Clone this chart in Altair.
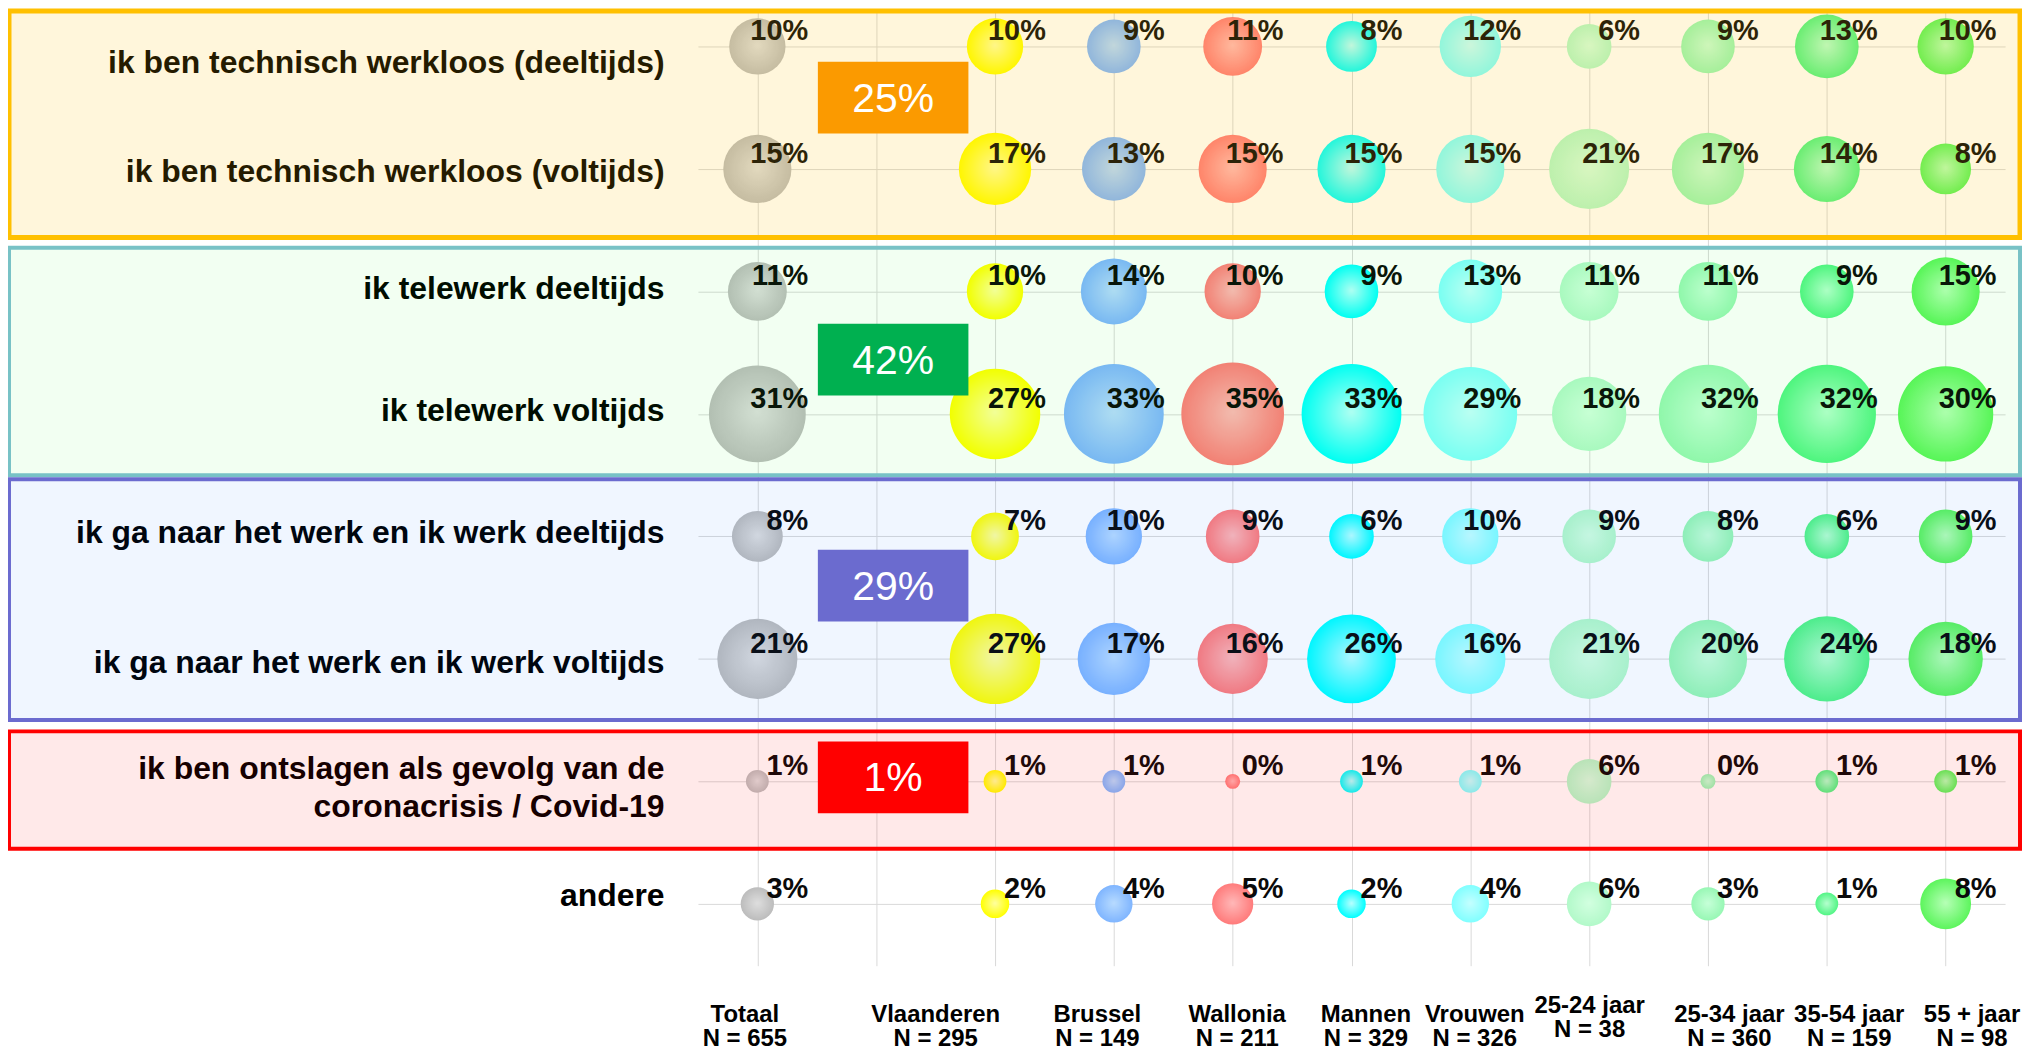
import json
import altair as alt
import pandas as pd

# ---------------- data ----------------
COLUMNS = ["Totaal", " ", "Vlaanderen", "Brussel", "Wallonia", "Mannen", "Vrouwen",
           "25-24 jaar", "25-34 jaar", "35-54 jaar", "55 + jaar"]
N_LABELS = ["N = 655", "", "N = 295", "N = 149", "N = 211", "N = 329", "N = 326",
            "N = 38", "N = 360", "N = 159", "N = 98"]

ROW_LABELS = [
    "ik ben technisch werkloos (deeltijds)",
    "ik ben technisch werkloos (voltijds)",
    "ik telewerk deeltijds",
    "ik telewerk voltijds",
    "ik ga naar het werk en ik werk deeltijds",
    "ik ga naar het werk en ik werk voltijds",
    "ik ben ontslagen als gevolg van de|coronacrisis / Covid-19",
    "andere",
]

TOTAAL = [10, 15, 11, 31, 8, 21, 1, 3]
VLAANDEREN = [10, 17, 10, 27, 7, 27, 1, 2]
BRUSSEL = [9, 13, 14, 33, 10, 17, 1, 4]
WALLONIA = [11, 15, 10, 35, 9, 16, 0, 5]
MANNEN = [8, 15, 9, 33, 6, 26, 1, 2]
VROUWEN = [12, 15, 13, 29, 10, 16, 1, 4]
AGE_25_24 = [6, 21, 11, 18, 9, 21, 6, 6]
AGE_25_34 = [9, 17, 11, 32, 8, 20, 0, 3]
AGE_35_54 = [13, 14, 9, 32, 6, 24, 1, 1]
AGE_55_PLUS = [10, 8, 15, 30, 9, 18, 1, 8]

SERIES = {
    "Totaal": TOTAAL, "Vlaanderen": VLAANDEREN, "Brussel": BRUSSEL,
    "Wallonia": WALLONIA, "Mannen": MANNEN, "Vrouwen": VROUWEN,
    "25-24 jaar": AGE_25_24, "25-34 jaar": AGE_25_34,
    "35-54 jaar": AGE_35_54, "55 + jaar": AGE_55_PLUS,
}

GROUP_ROWS = [[0, 1], [2, 3], [4, 5], [6]]
GROUP_TOTALS = ["25%", "42%", "29%", "1%"]

# ---------------- styles ----------------
BUBBLE_COLORS = {  # (centre highlight, edge)
    "Totaal": ("#dedede", "#bcbcbc"),
    "Vlaanderen": ("#ffffa0", "#ffff00"),
    "Brussel": ("#b8dbff", "#7fb5ff"),
    "Wallonia": ("#ffb8b8", "#ff7b7b"),
    "Mannen": ("#b8ffff", "#00ffff"),
    "Vrouwen": ("#c4ffff", "#80ffff"),
    "25-24 jaar": ("#d2ffe0", "#b2f9c9"),
    "25-34 jaar": ("#c6ffd8", "#97f7b4"),
    "35-54 jaar": ("#b6ffcf", "#52f585"),
    "55 + jaar": ("#b6ffb6", "#5cf55c"),
}

GROUP_STYLE = [
    dict(stroke="#ffc000", sw=5, fill="#ffc000", fo=0.14, box="#fb9a00", top=-0.289, bottom=0.56, yoff=-10),
    dict(stroke="#78c2c6", sw=4, fill="#00ff00", fo=0.05, box="#00b050", top=-0.356, bottom=0.50, yoff=7),
    dict(stroke="#6b6bcf", sw=4, fill="#0066ff", fo=0.06, box="#6b6bcf", top=-0.467, bottom=0.50, yoff=-12),
    dict(stroke="#ff0000", sw=4, fill="#ff0000", fo=0.085, box="#ff0000", top=-0.408, bottom=0.55, yoff=-4),
]

# label nudges (pixels) copying the hand-placed text boxes of the original
ROW_LABEL_SHIFT = [16, 3, -3, -3, -4, 4, -13, -8]
COL_LABEL_SHIFT = [-13, 0, -60, -17, 4, 14, 4, 0, 21, 22, 26]

FONT = "Liberation Sans"
GRID = "#d9d9d9"

# ---------------- tables ----------------
rows = []
for col, vals in SERIES.items():
    for i, v in enumerate(vals):
        rows.append({"col": col, "row": i, "value": v, "label": f"{v}%"})
df = pd.DataFrame(rows)

x_labels = [c.strip() + ("|" + n if n else "") for c, n in zip(COLUMNS, N_LABELS)]
x_expr = f"split({json.dumps(x_labels)}[indexof({json.dumps(COLUMNS)}, datum.value)], '|')"
y_expr = f"split({json.dumps(ROW_LABELS)}[datum.value], '|')"

x_offset_cond = {
    "condition": [{"test": f"datum.value == {json.dumps(c)}", "value": s}
                  for c, s in zip(COLUMNS, COL_LABEL_SHIFT) if s != 0],
    "value": 0,
}
y_offset_cond = {
    "condition": [{"test": f"datum.value == {i}", "value": s}
                  for i, s in enumerate(ROW_LABEL_SHIFT) if s != 0],
    "value": 0,
}

x_scale = alt.Scale(type="point", domain=COLUMNS, padding=0.5)
y_scale = alt.Scale(domain=[-0.301, 7.505], reverse=True, nice=False, zero=False)
size_scale = alt.Scale(type="linear", domain=[0, 35], range=[225, 10609])

x_axis = alt.Axis(
    title=None, orient="bottom", domain=False, ticks=False, grid=True,
    gridColor=GRID, gridWidth=1, labelAngle=0, labelFont=FONT, labelFontSize=24,
    labelFontWeight="bold", labelColor="#000000",
    labelPadding={"condition": {"test": "datum.value == '25-24 jaar'", "value": 28}, "value": 37},
    labelLineHeight=24, labelExpr=x_expr, labelBaseline="top", labelAlign="center",
    labelLimit=400, labelOverlap=False, labelBound=False, labelFlush=False,
    labelOffset=x_offset_cond,
)
y_axis = alt.Axis(
    title=None, values=list(range(len(ROW_LABELS))), domain=False, ticks=False,
    grid=True, gridColor=GRID, gridWidth=1, labelFont=FONT, labelFontSize=32,
    labelFontWeight="bold", labelPadding=34, labelLimit=900, labelLineHeight=38,
    labelExpr=y_expr, labelOverlap=False, labelBound=False, labelFlush=False,
    labelColor="#000000", labelOffset=y_offset_cond,
)

X = alt.X("col:N", scale=x_scale, axis=x_axis)
Y = alt.Y("row:Q", scale=y_scale, axis=y_axis)

layers = []

# bubbles
for col in SERIES:
    centre, edge = BUBBLE_COLORS[col]
    grad = alt.RadialGradient(
        gradient="radial",
        stops=[alt.GradientStop(color=centre, offset=0), alt.GradientStop(color=edge, offset=1)],
        x1=0.5, y1=0.48, r1=0, x2=0.5, y2=0.5, r2=0.5,
    )
    layers.append(
        alt.Chart(df[df["col"] == col]).mark_circle(fill=grad, opacity=1, strokeWidth=0)
        .encode(x=X, y=Y, size=alt.Size("value:Q", scale=size_scale, legend=None))
    )

# bubble labels
layers.append(
    alt.Chart(df).mark_text(font=FONT, fontSize=29, fontWeight="bold", color="#0a0a0a",
                            align="right", baseline="alphabetic", dx=51, dy=-6)
    .encode(x=X, y=Y, text="label:N")
)

# group frames (translucent tint laid over the rows, as in the original)
for g, st in zip(GROUP_ROWS, GROUP_STYLE):
    gdf = pd.DataFrame({"top": [g[0] + st["top"]], "bottom": [g[-1] + st["bottom"]]})
    layers.append(
        alt.Chart(gdf).mark_rect(fill=st["fill"], fillOpacity=st["fo"], stroke=st["stroke"],
                                 strokeWidth=st["sw"], strokeOpacity=1)
        .encode(x=alt.value(-691), x2=alt.value(1326),
                y=alt.Y("top:Q", scale=y_scale, axis=y_axis), y2="bottom:Q")
    )

# summary boxes
BOX_PATH = "M-1,-0.477H1V0.477H-1Z"
for g, total, st in zip(GROUP_ROWS, GROUP_TOTALS, GROUP_STYLE):
    sdf = pd.DataFrame({"col": [" "], "row": [(g[0] + g[-1]) / 2], "label": [total]})
    layers.append(
        alt.Chart(sdf).mark_point(shape=BOX_PATH, filled=True, color=st["box"], fill=st["box"],
                                  opacity=1, size=22801, strokeWidth=0,
                                  xOffset=17, yOffset=st["yoff"])
        .encode(x=X, y=Y)
    )
    layers.append(
        alt.Chart(sdf).mark_text(font=FONT, fontSize=41, color="#ffffff", align="center",
                                 baseline="middle", dx=17, dy=st["yoff"] + 2)
        .encode(x=X, y=Y, text="label:N")
    )

chart = (
    alt.layer(*layers)
    .properties(
        width=1311, height=959,
        autosize=alt.AutoSizeParams(type="none"),
        padding={"left": 692, "top": 0, "right": 17, "bottom": 85},
        background="#ffffff",
    )
    .configure_view(stroke=None)
)

chart.save("out.html", embed_options={"renderer": "svg", "actions": False})
